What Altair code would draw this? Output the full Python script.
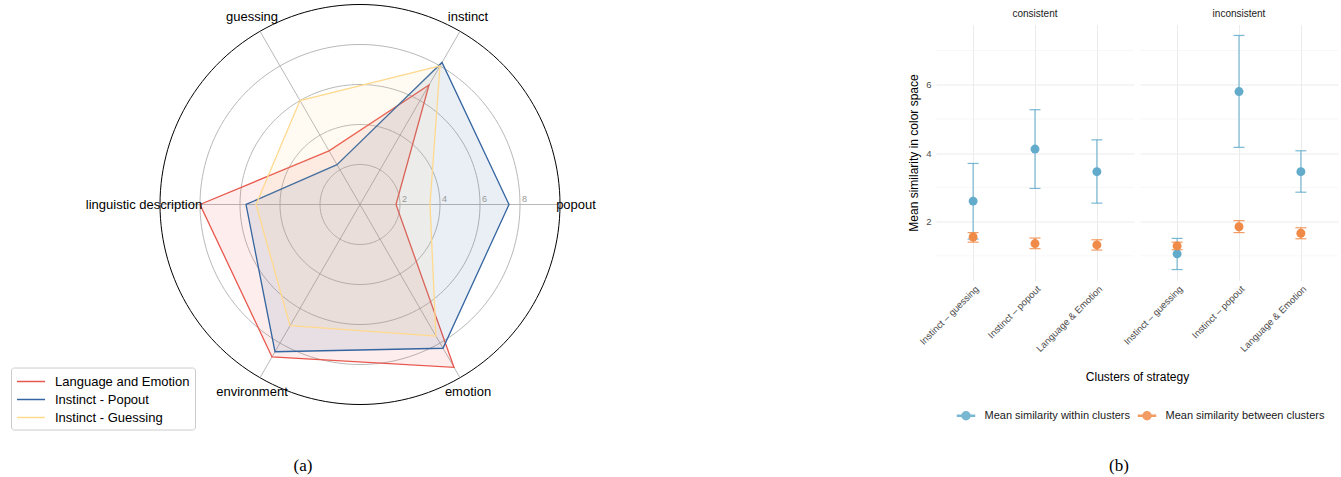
import math
import pandas as pd
import altair as alt

FONT = "Liberation Sans"

# ---------------- (a) radar chart data ----------------
axes_labels = ["popout", "instinct", "guessing", "linguistic description", "environment", "emotion"]
axes_angles_deg = [0, 60, 120, 180, 240, 300]
series_names = ["Language and Emotion", "Instinct - Popout", "Instinct - Guessing"]
lang_emotion = [1.8, 6.9, 3.1, 8.0, 8.8, 9.4]
instinct_popout = [7.45, 8.2, 2.3, 5.7, 8.5, 8.3]
instinct_guessing = [3.5, 8.0, 6.0, 5.2, 7.0, 7.6]
series_colors = ["#E8574D", "#3465A0", "#FFD98E"]
ring_levels = [2, 4, 6, 8]
outer_level = 10
label_radius = 10.8

# ---------------- (b) error-bar chart data ----------------
clusters = ["Instinct – guessing", "Instinct – popout", "Language & Emotion"]
measures = ["Mean similarity within clusters", "Mean similarity between clusters"]
measure_colors = ["#63ABCB", "#F08A48"]
cons_within_mean = [2.60, 4.12, 3.46]
cons_within_lo = [1.49, 2.97, 2.54]
cons_within_hi = [3.70, 5.27, 4.39]
cons_between_mean = [1.55, 1.36, 1.32]
cons_between_lo = [1.40, 1.21, 1.17]
cons_between_hi = [1.68, 1.52, 1.47]
inc_within_mean = [1.06, 5.80, 3.46]
inc_within_lo = [0.60, 4.17, 2.86]
inc_within_hi = [1.51, 7.44, 4.07]
inc_between_mean = [1.29, 1.85, 1.66]
inc_between_lo = [1.18, 1.68, 1.50]
inc_between_hi = [1.40, 2.03, 1.82]
major_y = [2, 4, 6]
minor_y = [1, 3, 5, 7]
y_domain = [0.28, 7.76]

# ---------------- build radar tables ----------------
rad = [math.radians(a) for a in axes_angles_deg]
poly_rows = []
for name, vals in zip(series_names, [lang_emotion, instinct_popout, instinct_guessing]):
    for k, v in enumerate(vals):
        poly_rows.append({"series": name, "order": k,
                          "x": v * math.cos(rad[k]), "y": v * math.sin(rad[k])})
poly_df = pd.DataFrame(poly_rows)

ring_rows = []
for lvl in ring_levels + [outer_level]:
    for j, deg in enumerate(range(0, 361, 2)):
        t = math.radians(deg)
        ring_rows.append({"level": lvl, "k": j, "x": lvl * math.cos(t), "y": lvl * math.sin(t)})
ring_df = pd.DataFrame(ring_rows)
grid_df = ring_df[ring_df["level"] != outer_level]
outer_df = ring_df[ring_df["level"] == outer_level]

spoke_df = pd.DataFrame({
    "x0": [0.0] * len(rad), "y0": [0.0] * len(rad),
    "x1": [outer_level * math.cos(t) for t in rad],
    "y1": [outer_level * math.sin(t) for t in rad],
})
label_df = pd.DataFrame({
    "label": axes_labels,
    "x": [label_radius * math.cos(t) for t in rad],
    "y": [label_radius * math.sin(t) for t in rad],
})
tick_df = pd.DataFrame({"v": ring_levels, "y": [0.0] * len(ring_levels),
                        "t": [str(v) for v in ring_levels]})

xs = alt.Scale(domain=[-10, 10], nice=False, zero=False)
ys = alt.Scale(domain=[-9, 9], nice=False, zero=False)
series_scale = alt.Scale(domain=series_names, range=series_colors)

grid = alt.Chart(grid_df).mark_line(color="#B0B0B0", strokeWidth=0.9).encode(
    x=alt.X("x:Q", scale=xs, axis=None), y=alt.Y("y:Q", scale=ys, axis=None),
    detail="level:N", order="k:Q")
outer = alt.Chart(outer_df).mark_line(color="#000000", strokeWidth=1.0).encode(
    x=alt.X("x:Q", scale=xs, axis=None), y=alt.Y("y:Q", scale=ys, axis=None),
    order="k:Q")
spokes = alt.Chart(spoke_df).mark_rule(color="#B0B0B0", strokeWidth=0.9).encode(
    x=alt.X("x0:Q", scale=xs, axis=None), y=alt.Y("y0:Q", scale=ys, axis=None),
    x2="x1:Q", y2="y1:Q")
ticks_txt = alt.Chart(tick_df).mark_text(
    align="left", baseline="bottom", dx=2, dy=-1, fontSize=9, color="#999999", font=FONT
).encode(x=alt.X("v:Q", scale=xs, axis=None), y=alt.Y("y:Q", scale=ys, axis=None), text="t:N")
polys = alt.Chart(poly_df).mark_line(
    strokeWidth=1.3, fillOpacity=0.1, interpolate="linear-closed"
).encode(
    x=alt.X("x:Q", scale=xs, axis=None), y=alt.Y("y:Q", scale=ys, axis=None),
    order="order:Q",
    color=alt.Color("series:N", scale=series_scale, legend=alt.Legend(
        title=None, orient="none", direction="vertical", legendX=-149, legendY=343,
        symbolType="M-1,0H2.5", symbolSize=256, symbolStrokeWidth=1.5,
        labelFont=FONT, labelFontSize=13, labelColor="#000000", labelOffset=21,
        strokeColor="#CCCCCC", fillColor="#FFFFFF", cornerRadius=3, padding=5, rowPadding=2)),
    fill=alt.Fill("series:N", scale=series_scale, legend=None),
)
axis_labels = alt.Chart(label_df).mark_text(
    align="center", baseline="middle", fontSize=13, color="#000000", font=FONT
).encode(x=alt.X("x:Q", scale=xs, axis=None), y=alt.Y("y:Q", scale=ys, axis=None), text="label:N")
cap_a = alt.Chart(pd.DataFrame({"t": ["(a)"]})).mark_text(
    font="Liberation Serif", fontSize=17, color="#000000", align="center", baseline="middle"
).encode(text="t:N", x=alt.value(143), y=alt.value(441))

radar = alt.layer(grid, outer, spokes, polys, ticks_txt, axis_labels, cap_a).properties(
    width=400, height=360)

# ---------------- (b) panels ----------------
yscale = alt.Scale(domain=y_domain, nice=False, zero=False)
xscale = alt.Scale(type="point", domain=clusters, padding=0.6)
cscale = alt.Scale(domain=measures, range=measure_colors)
legend_path = ("M-1,-0.07H1V0.07H-1Z M0.47,0A0.47,0.47,0,1,1,-0.47,0"
               "A0.47,0.47,0,1,1,0.47,0Z")


def panel(title, wm, wl, wh, bm, bl, bh, first, caption):
    df = pd.DataFrame({
        "cluster": clusters * 2,
        "measure": [measures[0]] * 3 + [measures[1]] * 3,
        "mean": wm + bm, "lo": wl + bl, "hi": wh + bh,
    })
    if first:
        yaxis = alt.Axis(values=major_y, grid=True, gridColor="#EBEBEB", gridWidth=1,
                         domain=False, ticks=False, labelFontSize=9.5, labelColor="#4D4D4D",
                         labelPadding=5, title="Mean similarity in color space",
                         titleFontSize=12, titleFontWeight="normal", titleColor="#000000",
                         titleAngle=270, titleX=-19, titleY=128, titleBaseline="alphabetic",
                         titleAlign="center")
        xaxis = alt.Axis(grid=True, gridColor="#EBEBEB", gridWidth=1, domain=False, ticks=False,
                         labelAngle=-45, labelAlign="right", labelBaseline="top",
                         labelFontSize=9.5, labelColor="#4D4D4D", labelPadding=3,
                         title="Clusters of strategy", titleFontSize=12,
                         titleFontWeight="normal", titleColor="#000000",
                         titleX=201, titleY=100, titleBaseline="alphabetic", titleAlign="center")
        legend = alt.Legend(title=None, orient="none", direction="horizontal",
                            legendX=20.5, legendY=381.5, symbolType=legend_path,
                            symbolSize=289, labelFont=FONT, labelFontSize=11,
                            labelColor="#1A1A1A", labelOffset=9, columnPadding=5, padding=0)
    else:
        yaxis = alt.Axis(values=major_y, grid=True, gridColor="#EBEBEB", gridWidth=1,
                         domain=False, ticks=False, labels=False, title=None)
        xaxis = alt.Axis(grid=True, gridColor="#EBEBEB", gridWidth=1, domain=False, ticks=False,
                         labelAngle=-45, labelAlign="right", labelBaseline="top",
                         labelFontSize=9.5, labelColor="#4D4D4D", labelPadding=3, title=None)
        legend = None

    def X():
        return alt.X("cluster:N", scale=xscale, axis=xaxis, sort=clusters)

    def Y(f):
        return alt.Y(f, type="quantitative", scale=yscale, axis=yaxis)

    col = alt.Color("measure:N", scale=cscale, legend=legend)
    base = alt.Chart(df)
    minor = alt.Chart(pd.DataFrame({"v": minor_y})).mark_rule(
        color="#F2F2F2", strokeWidth=0.6).encode(y=Y("v"))
    bars = base.mark_rule(strokeWidth=1.2, opacity=0.85).encode(
        x=X(), y=Y("lo"), y2="hi:Q", color=col)
    cap_lo = base.mark_tick(size=11, thickness=1.2, opacity=0.85, orient="horizontal").encode(
        x=X(), y=Y("lo"), color=col)
    cap_hi = base.mark_tick(size=11, thickness=1.2, opacity=0.85, orient="horizontal").encode(
        x=X(), y=Y("hi"), color=col)
    pts = base.mark_circle(size=80, opacity=1).encode(x=X(), y=Y("mean"), color=col)
    layers = [minor, bars, cap_lo, cap_hi, pts]
    if caption:
        layers.append(alt.Chart(pd.DataFrame({"t": [caption]})).mark_text(
            font="Liberation Serif", fontSize=17, color="#000000", align="center",
            baseline="middle").encode(text="t:N", x=alt.value(183), y=alt.value(441)))
    return alt.layer(*layers).properties(
        width=198, height=256,
        title=alt.TitleParams(title, fontSize=10, fontWeight="normal", color="#1A1A1A",
                              anchor="middle", offset=6, font=FONT))


left = panel("consistent", cons_within_mean, cons_within_lo, cons_within_hi,
             cons_between_mean, cons_between_lo, cons_between_hi, True, "(b)")
right = panel("inconsistent", inc_within_mean, inc_within_lo, inc_within_hi,
              inc_between_mean, inc_between_lo, inc_between_hi, False, None)

panel_b = alt.hconcat(left, right, spacing=6, bounds="flush").resolve_scale(
    color="independent", x="independent", y="independent")

chart = alt.hconcat(radar, panel_b, spacing=376, bounds="flush").resolve_scale(
    color="independent", x="independent", y="independent"
).properties(
    padding={"left": 10, "top": 1.5, "right": 2, "bottom": 2},
    autosize=alt.AutoSizeParams(type="pad"),
).configure(font=FONT).configure_view(stroke=None)

chart.save("out.html", embed_options={"renderer": "svg", "actions": False})
